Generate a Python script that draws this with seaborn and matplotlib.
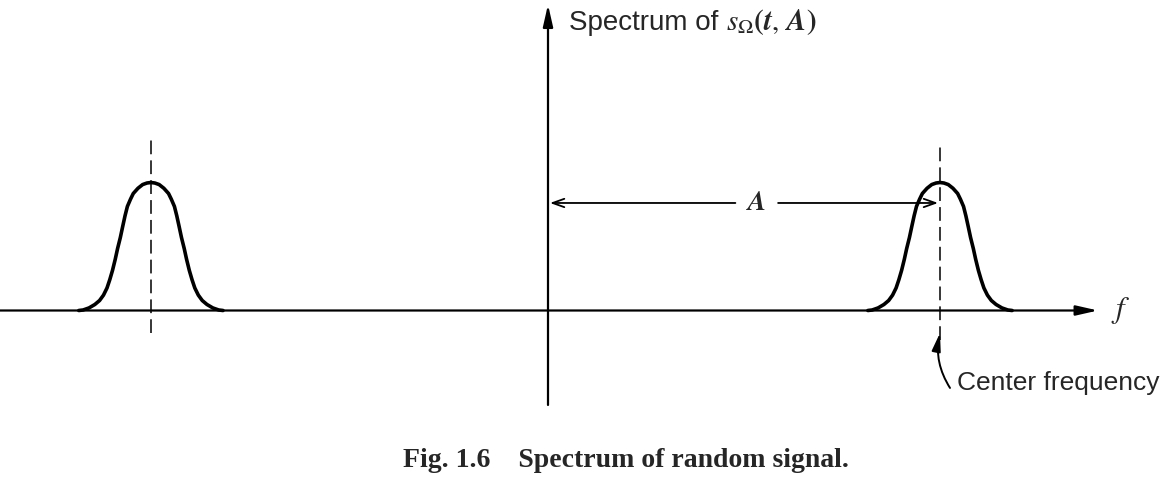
import numpy as np
import pandas as pd
import matplotlib
matplotlib.use('Agg')
import matplotlib.pyplot as plt
import seaborn as sns

# Center frequency: right peak sits at +A, its mirror image near -A
A = 1.0
centers = [-1.013, A]

# Half of the bell-shaped spectrum (offset from center, height)
peak_offsets = [0.000, 0.010, 0.021, 0.033, 0.045, 0.052, 0.060, 0.066, 0.072, 0.078,
                0.085, 0.091, 0.098, 0.105, 0.112, 0.121, 0.131, 0.143, 0.158, 0.173,
                0.184]
peak_heights = [1.000, 0.996, 0.984, 0.955, 0.914, 0.870, 0.813, 0.740, 0.656, 0.570,
                0.484, 0.400, 0.313, 0.240, 0.176, 0.120, 0.078, 0.047, 0.020, 0.004,
                0.000]

# Axis extents and guide lines (in f units / spectrum units)
f_axis = [-1.40, 1.403]
s_axis = [-0.738, 2.39]
dash_left = [-0.176, 1.37]
dash_right = [-0.23, 1.277]
A_arrow_y = 0.84

sns.set_theme(style='white')
plt.rcParams['font.family'] = ['Liberation Sans Narrow', 'Liberation Sans', 'DejaVu Sans']
plt.rcParams['mathtext.fontset'] = 'stix'

fig = plt.figure(figsize=(11.67, 4.98), dpi=100)
ax = fig.add_axes([0, 0, 1, 1])
ax.set_xlim(-548 / 392, (1167 - 548) / 392)
ax.set_ylim(-187.5 / 128, 310.5 / 128)
ax.axis('off')

# spectrum curves
off = np.array(peak_offsets)
hts = np.array(peak_heights)
for c in centers:
    curve = pd.DataFrame({
        'f': np.concatenate([c - off[::-1], c + off[1:]]),
        's': np.concatenate([hts[::-1], hts[1:]]),
    })
    sns.lineplot(data=curve, x='f', y='s', ax=ax, color='black', lw=2.6,
                 sort=False, estimator=None)

# axes with arrows
ax.annotate('', xy=(f_axis[1], 0), xytext=(f_axis[0], 0),
            arrowprops=dict(arrowstyle='-|>,head_length=1.1,head_width=0.25',
                            color='black', lw=1.6, shrinkA=0, shrinkB=0))
ax.annotate('', xy=(0, s_axis[1]), xytext=(0, s_axis[0]),
            arrowprops=dict(arrowstyle='-|>,head_length=1.1,head_width=0.25',
                            color='black', lw=1.6, shrinkA=0, shrinkB=0))

# dashed center lines
ax.plot([centers[0]] * 2, dash_left, color='black', lw=1.1, ls=(0, (9, 4)))
ax.plot([A, A], dash_right, color='black', lw=1.1, ls=(0, (9, 4)))

# A dimension arrow
ax.annotate('', xy=(0.005, A_arrow_y), xytext=(0.478, A_arrow_y),
            arrowprops=dict(arrowstyle='->,head_length=0.7,head_width=0.25',
                            color='black', lw=1.3, shrinkA=0, shrinkB=0))
ax.annotate('', xy=(A - 0.005, A_arrow_y), xytext=(0.587, A_arrow_y),
            arrowprops=dict(arrowstyle='->,head_length=0.7,head_width=0.25',
                            color='black', lw=1.3, shrinkA=0, shrinkB=0))
ax.text(0.532, A_arrow_y, r'$\boldsymbol{A}$', ha='center', va='center', fontsize=20)

# labels
ax.text(0.053, 2.25, 'Spectrum of', ha='left', va='center', fontsize=20)
ax.text(0.455, 2.25, r'$\boldsymbol{s_\Omega(t,\,A)}$', ha='left', va='center', fontsize=21)
ax.text(1.435, 0.0, r'$f$', ha='left', va='center', fontsize=22)
ax.text(1.043, -0.566, 'Center frequency', ha='left', va='center', fontsize=19)
ax.annotate('', xy=(A, -0.176), xytext=(1.0255, -0.605),
            arrowprops=dict(arrowstyle='-|>,head_length=0.9,head_width=0.22',
                            color='black', lw=1.4, shrinkA=0, shrinkB=0,
                            connectionstyle='arc3,rad=-0.2'))

fig.text(626 / 1167, 1 - 460 / 498, 'Fig. 1.6    Spectrum of random signal.', ha='center',
         va='center', fontsize=20, fontweight='bold', family=['Liberation Serif', 'DejaVu Serif'])

fig.savefig('out.png', dpi=100)
